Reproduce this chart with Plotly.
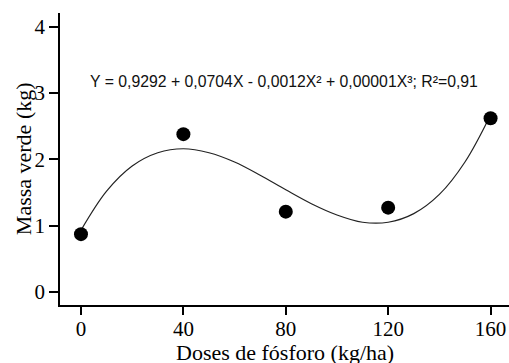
import plotly.graph_objects as go

# Observed data
doses = [0, 40, 80, 120, 160]
massa = [0.87, 2.38, 1.21, 1.27, 2.62]

# Fitted curve
curve_x = [0, 10, 20, 30, 40, 50, 60, 70, 80, 90, 100, 110, 120, 130, 140, 150, 160]
curve_y = [0.93, 1.52, 1.90, 2.10, 2.16, 2.10, 1.96, 1.76, 1.54, 1.33, 1.16, 1.05, 1.05, 1.18, 1.47, 1.96, 2.67]

x_ticks = [0, 40, 80, 120, 160]
y_ticks = [0, 1, 2, 3, 4]

equation = "Y = 0,9292 + 0,0704X - 0,0012X² + 0,00001X³; R²=0,91"
x_title = "Doses de fósforo (kg/ha)"
y_title = "Massa verde (kg)"

fig = go.Figure()
fig.add_trace(go.Scatter(x=curve_x, y=curve_y, mode="lines",
                         line=dict(color="#222222", width=1.2, shape="spline", smoothing=1.0),
                         hoverinfo="skip", showlegend=False))
fig.add_trace(go.Scatter(x=doses, y=massa, mode="markers",
                         marker=dict(color="black", size=14), showlegend=False))

fig.add_annotation(x=79.3, y=3.17, xref="x", yref="y", text=equation, showarrow=False,
                   font=dict(family="Liberation Sans, Arial", size=15.8, color="#111111"))

serif = "Liberation Serif, Times New Roman"
fig.add_annotation(x=0.5, y=-0.161, xref="paper", yref="paper", text=x_title,
                   showarrow=False, xanchor="center", yanchor="middle",
                   font=dict(family=serif, size=22, color="black"))
fig.add_annotation(x=-0.082, y=0.5, xref="paper", yref="paper", text=y_title,
                   showarrow=False, xanchor="center", yanchor="middle", textangle=-90,
                   font=dict(family=serif, size=22, color="black"))

fig.update_layout(
    width=509, height=363,
    margin=dict(l=60, r=0, t=13, b=58),
    plot_bgcolor="white", paper_bgcolor="white",
    xaxis=dict(range=[-8.2, 167.2], tickvals=x_ticks, ticks="outside", ticklen=8,
               tickwidth=1.5, tickcolor="black", showline=True, linecolor="black",
               linewidth=1.5, showgrid=False, zeroline=False, automargin=False,
               ticklabelstandoff=-4,
               tickfont=dict(family=serif, size=21, color="black")),
    yaxis=dict(range=[-0.2, 4.21], tickvals=y_ticks, ticks="outside", ticklen=9,
               tickwidth=1.5, tickcolor="black", showline=True, linecolor="black",
               linewidth=1.5, showgrid=False, zeroline=False, automargin=False,
               tickfont=dict(family=serif, size=21, color="black")),
)

fig.write_html("out.html", config={"displayModeBar": False},
               post_script="document.body.style.margin='0';document.body.style.overflow='hidden';")
